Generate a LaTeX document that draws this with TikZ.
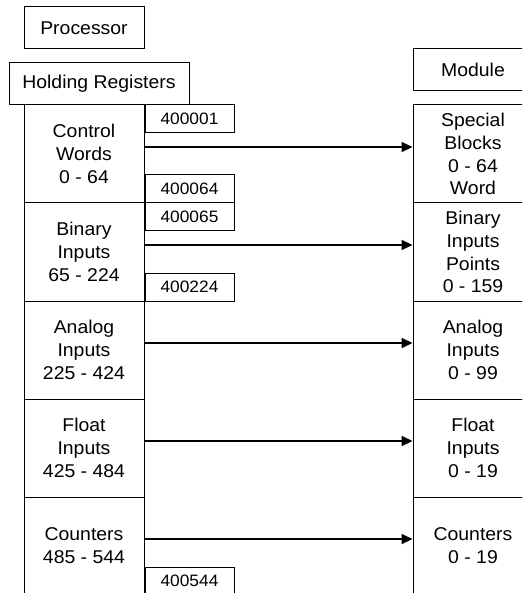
\documentclass[tikz,border=0pt]{standalone}
\usepackage{fontspec}
\setmainfont{Liberation Sans}[FakeStretch=1.05]
\usetikzlibrary{arrows.meta}

\tikzset{
  box/.style={draw, line width=1pt, inner sep=0pt, align=center,
    font=\fontsize{18.5}{22.8}\selectfont},
  titlebox/.style={box, minimum height=42pt},
  regbox/.style={box, minimum width=120pt, minimum height=98pt},
  addrbox/.style={box, minimum width=89pt, minimum height=28pt,
    font=\fontsize{16.5}{20}\selectfont},
  link/.style={line width=2pt, -{Triangle[length=11pt,width=10pt]}}
}

\begin{document}
\begin{tikzpicture}[x=1pt,y=-1pt]
            \useasboundingbox (0,0) rectangle (522,593);
            \clip (0,0) rectangle (522,593);

            \node[titlebox, minimum width=120pt] (proc) at (84,28) {Processor};
            \node[titlebox, minimum width=180pt] (holding) at (99,84) {Holding Registers};
            \node[titlebox, minimum width=120pt] (module) at (473,70) {Module};

            % processor side
            \node[regbox] (cw) at (84,154) {Control\\Words\\0 - 64};
            \node[regbox] (bi) at (84,252) {Binary\\Inputs\\65 - 224};
            \node[regbox] (ai) at (84,350) {Analog\\Inputs\\225 - 424};
            \node[regbox] (fi) at (84,448) {Float\\Inputs\\425 - 484};
            \node[regbox] (cnt) at (84,546) {Counters\\485 - 544};

            % module side
            \node[regbox] (sb) at (473,154) {Special\\Blocks\\0 - 64\\Word};
            \node[regbox] (bip) at (473,252) {Binary\\Inputs\\Points\\0 - 159};
            \node[regbox] (ain) at (473,350) {Analog\\Inputs\\0 - 99};
            \node[regbox] (fin) at (473,448) {Float\\Inputs\\0 - 19};
            \node[regbox] (cntm) at (473,546) {Counters\\0 - 19};

            % register addresses
            \node[addrbox, anchor=north west] (a1) at (cw.north east) {400001};
            \node[addrbox, anchor=south west] (a64) at (cw.south east) {400064};
            \node[addrbox, anchor=north west] (a65) at (bi.north east) {400065};
            \node[addrbox, anchor=south west] (a224) at (bi.south east) {400224};
            \node[addrbox, anchor=south west] (a544) at (cnt.south east) {400544};

            \draw[link] ([yshift=7pt]cw.east) -- ([yshift=7pt]sb.west);
            \draw[link] ([yshift=7pt]bi.east) -- ([yshift=7pt]bip.west);
            \draw[link] ([yshift=7pt]ai.east) -- ([yshift=7pt]ain.west);
            \draw[link] ([yshift=7pt]fi.east) -- ([yshift=7pt]fin.west);
            \draw[link] ([yshift=7pt]cnt.east) -- ([yshift=7pt]cntm.west);
\end{tikzpicture}
\end{document}
